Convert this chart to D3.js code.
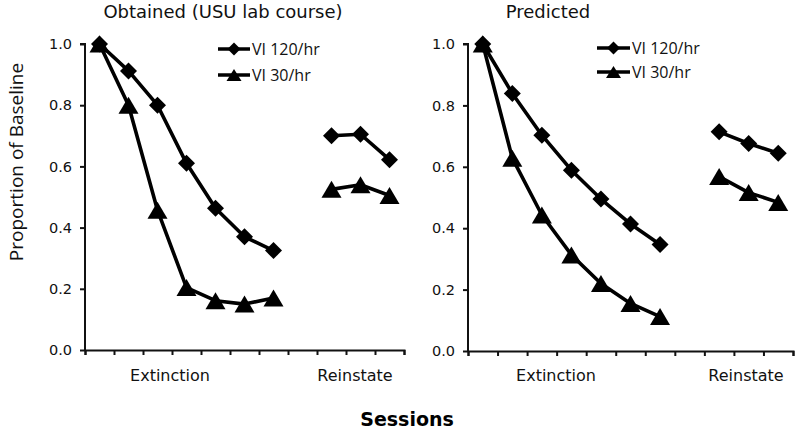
<!DOCTYPE html>
<html>
<head>
<meta charset="utf-8">
<script src="https://cdn.jsdelivr.net/npm/d3@7"></script>
<style>
  html, body { margin: 0; padding: 0; background: #fff; }
  svg { display: block; }
</style>
</head>
<body>
<svg id="chart" width="800" height="432"></svg>
<script>
// ---------------- DATA ----------------
const sessions = ["E1","E2","E3","E4","E5","E6","E7","gap","R1","R2","R3"];
const seriesNames = ["VI 120/hr", "VI 30/hr"];
const yTicks = [0, 0.2, 0.4, 0.6, 0.8, 1.0];
const phaseLabels = ["Extinction", "Reinstate"];

// Obtained (USU lab course)
const obtainedVI120Ext = [1.0, 0.912, 0.80, 0.61, 0.463, 0.37, 0.325];
const obtainedVI120Rein = [0.70, 0.705, 0.622];
const obtainedVI30Ext = [1.0, 0.80, 0.457, 0.204, 0.161, 0.150, 0.170];
const obtainedVI30Rein = [0.525, 0.54, 0.505];

// Predicted
const predictedVI120Ext = [1.0, 0.839, 0.703, 0.589, 0.495, 0.414, 0.347];
const predictedVI120Rein = [0.714, 0.676, 0.644];
const predictedVI30Ext = [1.0, 0.628, 0.443, 0.313, 0.22, 0.155, 0.112];
const predictedVI30Rein = [0.568, 0.516, 0.484];

const extSessions = sessions.slice(0, 7);
const reinSessions = sessions.slice(8);

// ---------------- DRAW ----------------
const svg = d3.select("#chart");
const verdana = "'DejaVu Sans', Verdana, sans-serif";
const calibri = "'Open Sans', 'Noto Sans', sans-serif";

function trianglePath(w, h) {
  return `M0,${-h/2}L${w/2},${h/2}L${-w/2},${h/2}Z`;
}
function diamondPath(r) {
  return `M0,${-r}L${r},0L0,${r}L${-r},0Z`;
}

const panels = [
  {
    title: "Obtained (USU lab course)", titleX: 223,
    x0: 85, x1: 404, yBottom: 350, yTop: 44,
    vi120: [obtainedVI120Ext, obtainedVI120Rein],
    vi30: [obtainedVI30Ext, obtainedVI30Rein],
    legX: 218, legY: [49, 75], legLen: 32,
    phaseX: [170, 355]
  },
  {
    title: "Predicted", titleX: 548,
    x0: 468, x1: 793, yBottom: 351, yTop: 44,
    vi120: [predictedVI120Ext, predictedVI120Rein],
    vi30: [predictedVI30Ext, predictedVI30Rein],
    legX: 597, legY: [48, 72], legLen: 33,
    phaseX: [556, 746]
  }
];

panels.forEach(p => {
  const g = svg.append("g");
  const x = d3.scaleBand().domain(sessions).range([p.x0, p.x1]).padding(0);
  const xEdge = d3.scaleLinear().domain([0, sessions.length]).range([p.x0, p.x1]);
  const y = d3.scaleLinear().domain([0, 1]).range([p.yBottom, p.yTop]);
  const cx = s => x(s) + x.bandwidth() / 2;

  // title
  g.append("text")
    .attr("x", p.titleX).attr("y", 18)
    .attr("text-anchor", "middle")
    .style("font-family", verdana).style("font-size", "18px")
    .attr("fill", "#111")
    .text(p.title);

  // y axis
  const yAxis = d3.axisLeft(y).tickValues(yTicks)
    .tickFormat(d3.format(".1f")).tickSize(5).tickPadding(8);
  const ya = g.append("g").attr("transform", `translate(${p.x0},0)`).call(yAxis);
  ya.select(".domain").attr("d", `M-5,${p.yTop}H0V${p.yBottom}`).attr("stroke", "#111").attr("stroke-width", 2);
  ya.selectAll(".tick line").attr("stroke", "#111").attr("stroke-width", 2);
  ya.selectAll(".tick text").style("font-family", verdana).style("font-size", "14.5px").attr("fill", "#111");

  // x axis with ticks at band boundaries
  const xAxis = d3.axisBottom(xEdge).tickValues(d3.range(sessions.length + 1))
    .tickFormat("").tickSize(5).tickSizeOuter(5);
  const xa = g.append("g").attr("transform", `translate(0,${p.yBottom})`).call(xAxis);
  xa.select(".domain").attr("stroke", "#111").attr("stroke-width", 2);
  xa.selectAll(".tick line").attr("stroke", "#111").attr("stroke-width", 2);

  // phase labels
  phaseLabels.forEach((lab, i) => {
    g.append("text")
      .attr("x", p.phaseX[i]).attr("y", 381)
      .attr("text-anchor", "middle")
      .style("font-family", verdana).style("font-size", "16px")
      .attr("fill", "#111")
      .text(lab);
  });

  const line = d3.line().x(d => cx(d.s)).y(d => y(d.v));

  const drawSeries = (vals, kind) => {
    [[extSessions, vals[0]], [reinSessions, vals[1]]].forEach(([ss, vv]) => {
      const pts = ss.map((s, i) => ({ s, v: vv[i] }));
      g.append("path").datum(pts).attr("d", line)
        .attr("fill", "none").attr("stroke", "#000").attr("stroke-width", 3.6)
        .attr("stroke-linejoin", "round");
      g.selectAll(null).data(pts).enter().append("path")
        .attr("transform", d => `translate(${cx(d.s)},${y(d.v)})`)
        .attr("d", kind === "d" ? diamondPath(8.5) : trianglePath(20, 17))
        .attr("fill", "#000");
    });
  };
  drawSeries(p.vi120, "d");
  drawSeries(p.vi30, "t");

  // legend
  seriesNames.forEach((name, i) => {
    const ly = p.legY[i];
    g.append("line").attr("x1", p.legX).attr("x2", p.legX + p.legLen)
      .attr("y1", ly).attr("y2", ly).attr("stroke", "#000").attr("stroke-width", 3.5);
    g.append("path")
      .attr("transform", `translate(${p.legX + p.legLen / 2},${ly})`)
      .attr("d", i === 0 ? diamondPath(6.5) : trianglePath(15, 12))
      .attr("fill", "#000");
    g.append("text")
      .attr("x", p.legX + p.legLen + 2).attr("y", ly + 5.5)
      .style("font-family", calibri).style("font-size", "16px")
      .attr("fill", "#111")
      .text(name);
  });
});

// y label
svg.append("text")
  .attr("transform", "translate(23,162) rotate(-90)")
  .attr("text-anchor", "middle")
  .style("font-family", calibri).style("font-size", "19px")
  .attr("fill", "#111")
  .text("Proportion of Baseline");

// x title
svg.append("text")
  .attr("x", 407).attr("y", 426)
  .attr("text-anchor", "middle")
  .style("font-family", verdana).style("font-size", "19px").style("font-weight", "bold")
  .attr("fill", "#000")
  .text("Sessions");
</script>
</body>
</html>
